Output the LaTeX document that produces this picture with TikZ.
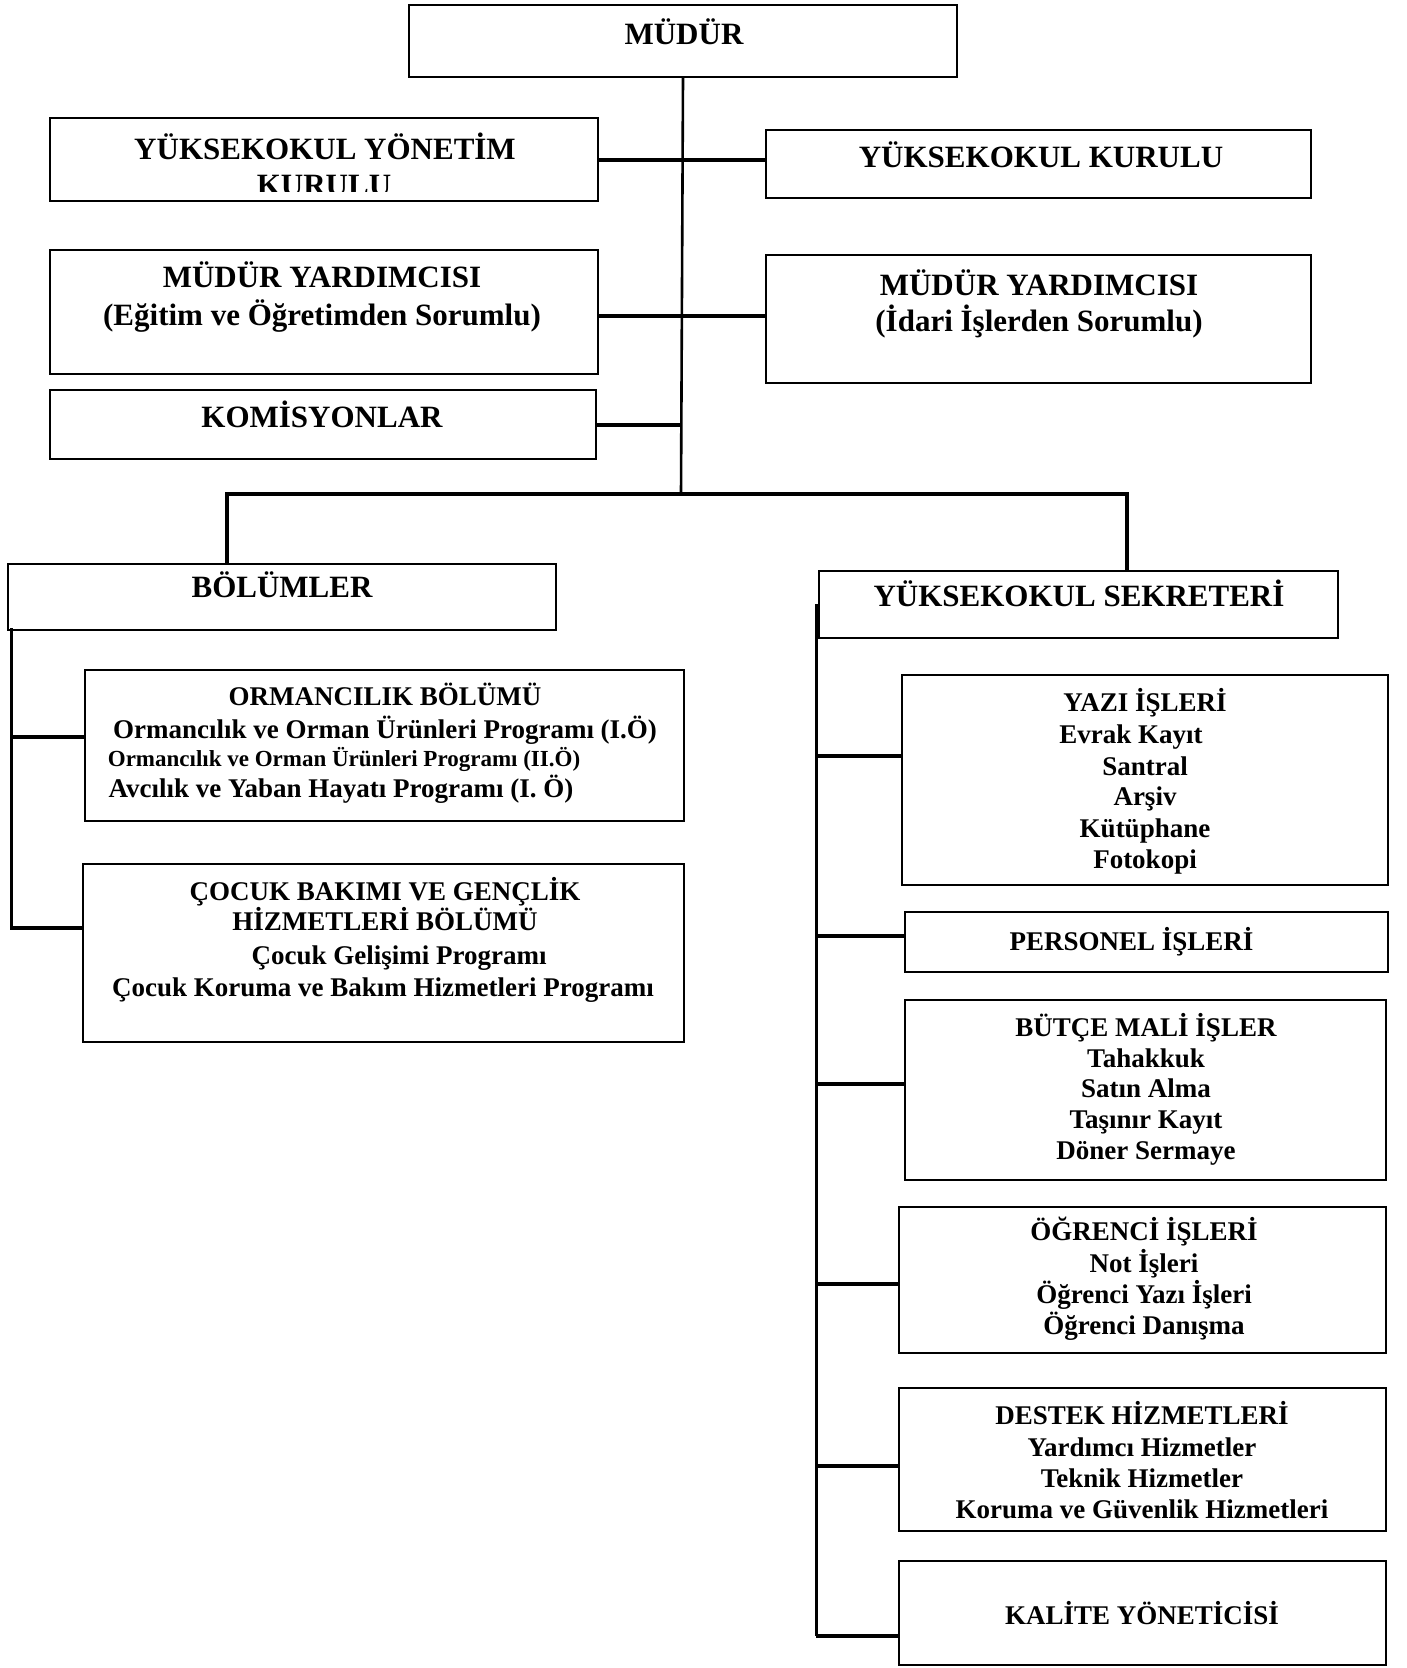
\documentclass[tikz,border=0pt]{standalone}
\usepackage{fontspec}
\setmainfont{Liberation Serif}
\begin{document}
\begin{tikzpicture}[x=1pt,y=-1pt,
  box/.style={draw, line width=2.2pt, inner sep=0pt},
  ta/.style={anchor=base, inner sep=0pt, font=\fontsize{31}{31}\selectfont\bfseries},
  tb/.style={anchor=base, inner sep=0pt, font=\fontsize{27}{27}\selectfont\bfseries},
  tc/.style={anchor=base, inner sep=0pt, font=\fontsize{23}{23}\selectfont\bfseries},
  spine/.style={line width=2.6pt},
  tie/.style={line width=4pt},
  bar/.style={line width=4.5pt},
  rail/.style={line width=3pt}]
\useasboundingbox (0,0) rectangle (1406,1668);

% boxes
\node[box, minimum width=548, minimum height=83] (yyk) at (324,159.5) {};
\node[box, minimum width=548, minimum height=72] (mudur) at (683,41) {};
\node[box, minimum width=545, minimum height=68] (yk) at (1038.5,164) {};
\node[box, minimum width=548, minimum height=124] (myl) at (324,312) {};
\node[box, minimum width=545, minimum height=128] (myr) at (1038.5,319) {};
\node[box, minimum width=546, minimum height=69] (kom) at (323,424.5) {};
\node[box, minimum width=548, minimum height=66] (bol) at (282,597) {};
\node[box, minimum width=519, minimum height=67] (ysek) at (1078.5,604.5) {};
\node[box, minimum width=599, minimum height=151] (orm) at (384.5,745.5) {};
\node[box, minimum width=601, minimum height=178] (coc) at (383.5,953) {};
\node[box, minimum width=486, minimum height=210] (yazi) at (1145,780) {};
\node[box, minimum width=483, minimum height=60] (pers) at (1146.5,942) {};
\node[box, minimum width=481, minimum height=180] (butce) at (1145.5,1090) {};
\node[box, minimum width=487, minimum height=146] (ogr) at (1142.5,1280) {};
\node[box, minimum width=487, minimum height=143] (destek) at (1142.5,1459.5) {};
\node[box, minimum width=487, minimum height=104] (kalite) at (1142.5,1613) {};

% texts
\node[ta] (tmudur) at (684,44) {MÜDÜR};
\node[ta] (tyyk1) at (325,159) {YÜKSEKOKUL YÖNETİM};
\begin{scope}
\clip (60,165) rectangle (590,191.5);
\node[ta] (tyyk2) at (324,195) {KURULU};
\end{scope}
\node[ta] (tyk) at (1041,167) {YÜKSEKOKUL KURULU};
\node[ta] (tmyl1) at (322,287) {MÜDÜR YARDIMCISI};
\node[ta] (tmyl2) at (322,325) {(Eğitim ve Öğretimden Sorumlu)};
\node[ta] (tmyr1) at (1039,295) {MÜDÜR YARDIMCISI};
\node[ta] (tmyr2) at (1039,331) {(İdari İşlerden Sorumlu)};
\node[ta] (tkom) at (322,427) {KOMİSYONLAR};
\node[ta] (tbol) at (282,597) {BÖLÜMLER};
\node[ta] (tysek) at (1079,606) {YÜKSEKOKUL SEKRETERİ};

\node[tb] (torm1) at (385,705) {ORMANCILIK BÖLÜMÜ};
\node[tb] (torm2) at (385,738) {Ormancılık ve Orman Ürünleri Programı (I.Ö)};
\node[tc] (torm3) at (344,766) {Ormancılık ve Orman Ürünleri Programı (II.Ö)};
\node[tb] (torm4) at (341,797) {Avcılık ve Yaban Hayatı Programı (I. Ö)};

\node[tb] (tcoc1) at (385,900) {ÇOCUK BAKIMI VE GENÇLİK};
\node[tb] (tcoc2) at (385,930) {HİZMETLERİ BÖLÜMÜ};
\node[tb] (tcoc3) at (399,964) {Çocuk Gelişimi Programı};
\node[tb] (tcoc4) at (383,996) {Çocuk Koruma ve Bakım Hizmetleri Programı};

\node[tb] (tyazi1) at (1145,711) {YAZI İŞLERİ};
\node[tb] (tyazi2) at (1131,743) {Evrak Kayıt};
\node[tb] (tyazi3) at (1145,775) {Santral};
\node[tb] (tyazi4) at (1145,805.5) {Arşiv};
\node[tb] (tyazi5) at (1145,837.5) {Kütüphane};
\node[tb] (tyazi6) at (1145,868) {Fotokopi};

\node[tb] (tpers) at (1131.5,950) {PERSONEL İŞLERİ};

\node[tb] (tbut1) at (1146,1036) {BÜTÇE MALİ İŞLER};
\node[tb] (tbut2) at (1146,1067) {Tahakkuk};
\node[tb] (tbut3) at (1146,1097) {Satın Alma};
\node[tb] (tbut4) at (1146,1128) {Taşınır Kayıt};
\node[tb] (tbut5) at (1146,1159) {Döner Sermaye};

\node[tb] (togr1) at (1144,1240.5) {ÖĞRENCİ İŞLERİ};
\node[tb] (togr2) at (1144,1272.5) {Not İşleri};
\node[tb] (togr3) at (1144,1303) {Öğrenci Yazı İşleri};
\node[tb] (togr4) at (1144,1334) {Öğrenci Danışma};

\node[tb] (tdes1) at (1142,1424.5) {DESTEK HİZMETLERİ};
\node[tb] (tdes2) at (1142,1456.5) {Yardımcı Hizmetler};
\node[tb] (tdes3) at (1142,1487) {Teknik Hizmetler};
\node[tb] (tdes4) at (1142,1518) {Koruma ve Güvenlik Hizmetleri};

\node[tb] (tkal) at (1142,1624.5) {KALİTE YÖNETİCİSİ};

% connectors
\coordinate (hb) at (681,494);
\coordinate (bl) at (227,494);
\coordinate (br) at (1127,494);
\draw[spine] (mudur.south) -- (hb);
\draw[tie] (yyk.east) -- (yyk.east -| yk.west);
\draw[tie] ([yshift=-4pt]myl.east) -- ([yshift=-4pt]myl.east -| myr.west);
\draw[tie] (kom.east) -- (kom.east -| hb);
\draw[bar] (bl |- bol.north) -- (bl) -- (br) -- (br |- ysek.north);

\coordinate (lv) at (11.5,628);
\draw[rail] (lv) -- ([yshift=23pt]coc.west -| lv);
\draw[tie] ([yshift=8.5pt]orm.west -| lv) -- ([yshift=8.5pt]orm.west);
\draw[tie] ([yshift=25pt]coc.west -| lv) -- ([yshift=25pt]coc.west);

\coordinate (rv) at (816,604);
\draw[rail] (rv) -- ([yshift=-23pt]kalite.west -| rv);
\draw[tie] ([yshift=24pt]yazi.west -| rv) -- ([yshift=24pt]yazi.west);
\draw[tie] ([yshift=6pt]pers.west -| rv) -- ([yshift=6pt]pers.west);
\draw[tie] ([yshift=6pt]butce.west -| rv) -- ([yshift=6pt]butce.west);
\draw[tie] ([yshift=-4pt]ogr.west -| rv) -- ([yshift=-4pt]ogr.west);
\draw[tie] ([yshift=-6.5pt]destek.west -| rv) -- ([yshift=-6.5pt]destek.west);
\draw[tie] ([yshift=-23pt]kalite.west -| rv) -- ([yshift=-23pt]kalite.west);
\end{tikzpicture}
\end{document}
